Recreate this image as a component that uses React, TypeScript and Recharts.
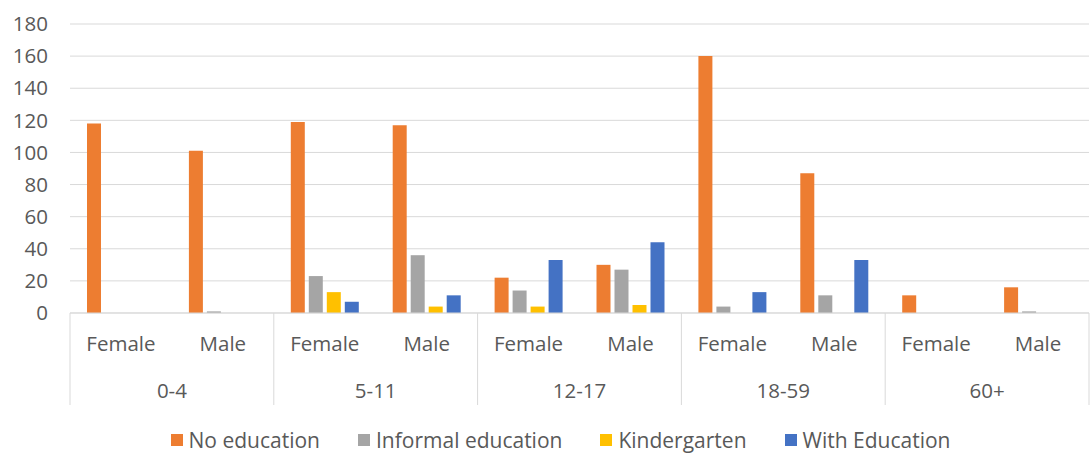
import React from "react";
import {
  BarChart,
  Bar,
  XAxis,
  YAxis,
  CartesianGrid,
  Legend,
} from "recharts";

const ageGroups = ["0-4", "5-11", "12-17", "18-59", "60+"];
const sexes = ["Female", "Male"];
const noEducation = [118, 101, 119, 117, 22, 30, 160, 87, 11, 16];
const informalEducation = [0, 1, 23, 36, 14, 27, 4, 11, 0, 1];
const kindergarten = [0, 0, 13, 4, 4, 5, 0, 0, 0, 0];
const withEducation = [0, 0, 7, 11, 33, 44, 13, 33, 0, 0];
const yTicks = [0, 20, 40, 60, 80, 100, 120, 140, 160, 180];

const SERIES = [
  { key: "noEducation", name: "No education", color: "#ED7D31" },
  { key: "informal", name: "Informal education", color: "#A5A5A5" },
  { key: "kindergarten", name: "Kindergarten", color: "#FFC000" },
  { key: "withEducation", name: "With Education", color: "#4472C4" },
];

const data = noEducation.map((v, i) => ({
  sex: sexes[i % 2],
  age: ageGroups[Math.floor(i / 2)],
  noEducation: v,
  informal: informalEducation[i],
  kindergarten: kindergarten[i],
  withEducation: withEducation[i],
}));

const FONT = "'Open Sans', sans-serif";
const TEXT = "#595959";
const GRID = "#D9D9D9";
const WIDTH = 1090;
const HEIGHT = 455;
const PLOT_LEFT = 70;
const PLOT_RIGHT = 1089;
const BAND = (PLOT_RIGHT - PLOT_LEFT) / data.length;
const SEX_AXIS_H = 45;
const AGE_AXIS_H = 47;

function SexTick(props: any) {
  const { x, y, payload } = props;
  return (
    <text x={x} y={y + 38} textAnchor="middle" fill={TEXT} fontSize={20.5} fontFamily={FONT}>
      {payload.value}
    </text>
  );
}

function AgeTick(props: any) {
  const { x, y, payload, index } = props;
  const top = y - SEX_AXIS_H;
  const bottom = y + AGE_AXIS_H;
  return (
    <g>
      {index % 2 === 0 && (
        <>
          <line x1={x - BAND / 2} x2={x - BAND / 2} y1={top} y2={bottom} stroke={GRID} />
          <text x={x + BAND / 2} y={y + 40} textAnchor="middle" fill={TEXT} fontSize={20.5} fontFamily={FONT}>
            {payload.value}
          </text>
        </>
      )}
      {index === data.length - 1 && (
        <line x1={x + BAND / 2} x2={x + BAND / 2} y1={top} y2={bottom} stroke={GRID} />
      )}
    </g>
  );
}

function LegendBox() {
  return (
    <div
      style={{
        height: 50,
        display: "flex",
        justifyContent: "center",
        alignItems: "center",
        paddingTop: 20,
        boxSizing: "border-box",
        paddingLeft: 70,
        fontFamily: FONT,
        fontSize: 21,
        color: TEXT,
      }}
    >
      {SERIES.map((s) => (
        <div key={s.key} style={{ display: "flex", alignItems: "center", marginRight: 38 }}>
          <span style={{ width: 12, height: 12, background: s.color, marginRight: 6, display: "inline-block" }} />
          <span>{s.name}</span>
        </div>
      ))}
    </div>
  );
}

export default function App() {
  return (
    <div style={{ width: WIDTH, height: HEIGHT, background: "#fff" }}>
      <style>{"body{margin:0}"}</style>
      <BarChart
        width={WIDTH}
        height={HEIGHT}
        data={data}
        margin={{ top: 24, right: WIDTH - PLOT_RIGHT, bottom: 0, left: 0 }}
        barSize={14}
        barGap={4}
      >
        <CartesianGrid vertical={false} stroke={GRID} />
        <XAxis
          dataKey="sex"
          interval={0}
          height={SEX_AXIS_H}
          tickLine={false}
          tickSize={0}
          tickMargin={0}
          axisLine={{ stroke: GRID }}
          tick={<SexTick />}
        />
        <XAxis
          xAxisId="age"
          dataKey="age"
          interval={0}
          height={AGE_AXIS_H}
          tickLine={false}
          tickSize={0}
          tickMargin={0}
          axisLine={false}
          tick={<AgeTick />}
        />
        <YAxis
          domain={[0, 180]}
          ticks={yTicks}
          width={PLOT_LEFT}
          axisLine={false}
          tickLine={false}
          tickMargin={16}
          tick={{ fill: TEXT, fontSize: 20.5, fontFamily: FONT }}
        />
        <Legend verticalAlign="bottom" content={<LegendBox />} />
        {SERIES.map((s) => (
          <Bar
            key={s.key}
            dataKey={s.key}
            name={s.name}
            fill={s.color}
            isAnimationActive={false}
          />
        ))}
      </BarChart>
    </div>
  );
}
